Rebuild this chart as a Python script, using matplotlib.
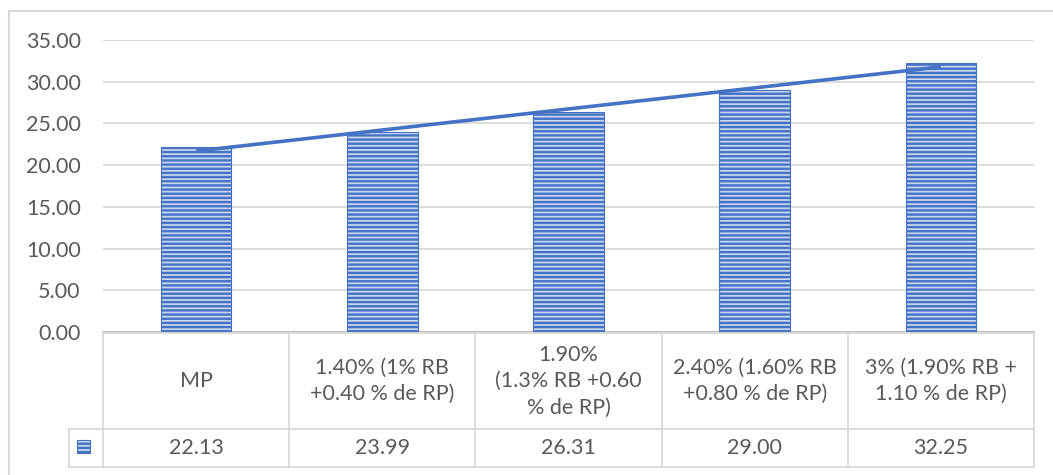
import matplotlib
matplotlib.use("Agg")
import matplotlib.pyplot as plt
from matplotlib.patches import Rectangle
import numpy as np

# ---------------------------------------------------------------------------
# Data
# ---------------------------------------------------------------------------

categories = [
    "MP",
    "1.40% (1% RB\n+0.40 % de RP)",
    "1.90%\n(1.3% RB +0.60\n% de RP)",
    "2.40% (1.60% RB\n+0.80 % de RP)",
    "3% (1.90% RB +\n1.10 % de RP)",
]
values = [22.13, 23.99, 26.31, 29.00, 32.25]
y_ticks = [0, 5, 10, 15, 20, 25, 30, 35]

# ---------------------------------------------------------------------------
# Style
# ---------------------------------------------------------------------------

W, H = 1053, 475
BLUE = "#4472c4"
FACE = "#c7d5ef"
GRID = "#d9d9d9"
TEXT = "#595959"
FONT = "Lato"
FS = 15.5

plt.rcParams["font.family"] = [FONT, "DejaVu Sans"]
plt.rcParams["hatch.linewidth"] = 1.7
plt.rcParams["hatch.color"] = BLUE

fig = plt.figure(figsize=(W / 100, H / 100), dpi=100)


def px_box(left, top, right, bottom):
    """Pixel box -> figure fraction [l, b, w, h]."""
    return [left / W, 1 - bottom / H, (right - left) / W, (bottom - top) / H]


# ---------------------------------------------------------------------------
# Chart
# ---------------------------------------------------------------------------

ax = fig.add_axes(px_box(103, 40, 1034, 332))
x = np.arange(len(values)) + 0.5

ax.bar(x, values, width=0.38, color=FACE, edgecolor=BLUE, linewidth=0.8,
       hatch="----", zorder=3)

# linear trendline across the bar centres
slope, intercept = np.polyfit(x, values, 1)
ax.plot(x[[0, -1]], slope * x[[0, -1]] + intercept, color=BLUE, lw=2.6,
        solid_capstyle="butt", zorder=4)

ax.set_xlim(0, len(values))
ax.set_ylim(0, 35)
ax.set_yticks(y_ticks)
ax.set_yticklabels([f"{v:.2f}" for v in y_ticks], color=TEXT, fontsize=FS)
ax.tick_params(axis="y", length=0, pad=16)
ax.set_xticks([])
ax.grid(axis="y", color=GRID, lw=1.3, zorder=0)
for side in ("top", "left", "right"):
    ax.spines[side].set_visible(False)
ax.spines["bottom"].set_color("#bfbfbf")
ax.spines["bottom"].set_linewidth(1.3)

# ---------------------------------------------------------------------------
# Data table under the axis
# ---------------------------------------------------------------------------

tab = fig.add_axes(px_box(103, 333, 1034, 467))
tab.set_xlim(0, len(values))
tab.set_ylim(0, 1)
tab.axis("off")

row_split = (467 - 429) / (467 - 333)
key_left = -(103 - 69) / 186.2
lw_tab = 1.3

# horizontal rules
tab.plot([0, len(values)], [1, 1], color=GRID, lw=lw_tab, clip_on=False)
tab.plot([key_left, len(values)], [row_split, row_split], color=GRID,
         lw=lw_tab, clip_on=False)
tab.plot([key_left, len(values)], [0, 0], color=GRID, lw=lw_tab,
         clip_on=False)
# vertical rules
for i in range(len(values) + 1):
    tab.plot([i, i], [0, 1], color=GRID, lw=lw_tab, clip_on=False)
tab.plot([key_left, key_left], [0, row_split], color=GRID, lw=lw_tab,
         clip_on=False)

for xi, label, val in zip(x, categories, values):
    tab.text(xi, (1 + row_split) / 2, label, ha="center", va="center",
             color=TEXT, fontsize=FS, linespacing=1.4)
    tab.text(xi, row_split / 2, f"{val:.2f}", ha="center", va="center",
             color=TEXT, fontsize=FS)

# legend key swatch
tab.add_patch(Rectangle((-(103 - 77) / 186.2, (467 - 453) / 134),
                        13 / 186.2, 13 / 134, facecolor=FACE, edgecolor=BLUE,
                        linewidth=0.8, hatch="----", clip_on=False))

# outer chart border (runs off the right and bottom edge)
fig.patches.append(Rectangle((9 / W, -0.1), 1.2, 1 - 11 / H + 0.1,
                             transform=fig.transFigure, fill=False,
                             edgecolor=GRID, linewidth=1.5))

fig.savefig("out.png", dpi=100)
